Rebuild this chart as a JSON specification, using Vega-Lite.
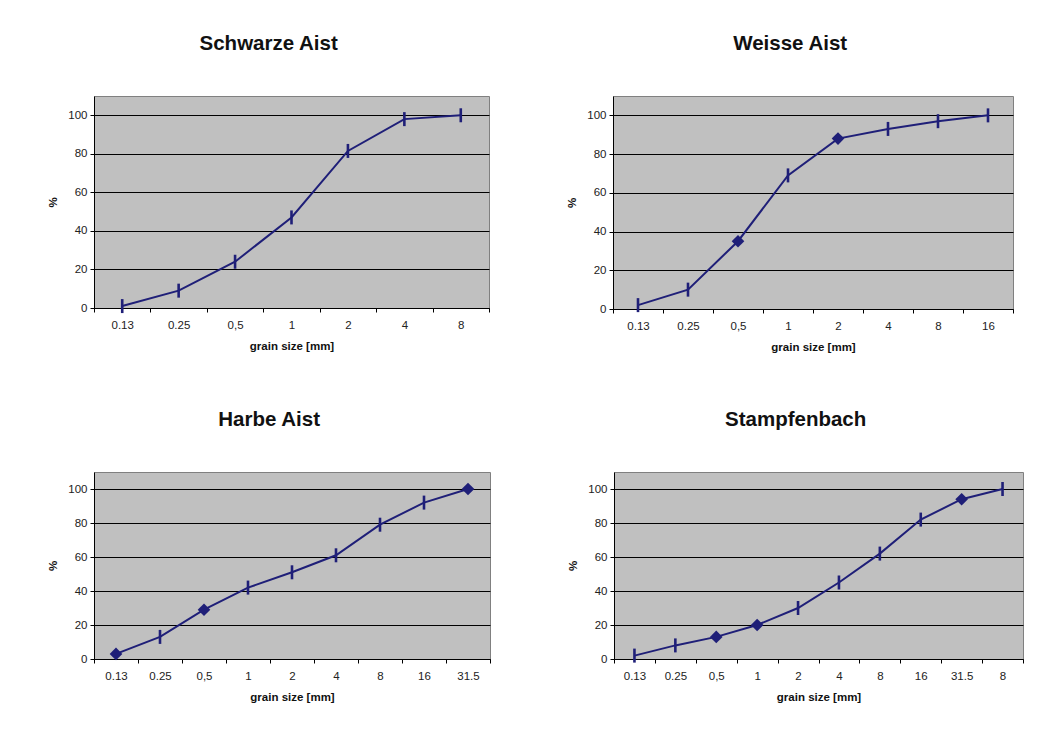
{
  "$schema": "https://vega.github.io/schema/vega-lite/v6.json",
  "padding": {"left": 47, "top": 33, "right": 5, "bottom": 5},
  "background": "white",
  "data": {"values": [
    {"panel": "Schwarze Aist", "size": "0.13", "ord": 1, "pct": 1, "marker": "tick"},
    {"panel": "Schwarze Aist", "size": "0.25", "ord": 2, "pct": 9, "marker": "tick"},
    {"panel": "Schwarze Aist", "size": "0,5", "ord": 3, "pct": 24, "marker": "tick"},
    {"panel": "Schwarze Aist", "size": "1", "ord": 4, "pct": 47, "marker": "tick"},
    {"panel": "Schwarze Aist", "size": "2", "ord": 5, "pct": 81.5, "marker": "tick"},
    {"panel": "Schwarze Aist", "size": "4", "ord": 6, "pct": 98, "marker": "tick"},
    {"panel": "Schwarze Aist", "size": "8", "ord": 7, "pct": 100, "marker": "tick"},
    {"panel": "Weisse Aist", "size": "0.13", "ord": 1, "pct": 2, "marker": "tick"},
    {"panel": "Weisse Aist", "size": "0.25", "ord": 2, "pct": 10, "marker": "tick"},
    {"panel": "Weisse Aist", "size": "0,5", "ord": 3, "pct": 35, "marker": "diamond"},
    {"panel": "Weisse Aist", "size": "1", "ord": 4, "pct": 69, "marker": "tick"},
    {"panel": "Weisse Aist", "size": "2", "ord": 5, "pct": 88, "marker": "diamond"},
    {"panel": "Weisse Aist", "size": "4", "ord": 6, "pct": 93, "marker": "tick"},
    {"panel": "Weisse Aist", "size": "8", "ord": 7, "pct": 97, "marker": "tick"},
    {"panel": "Weisse Aist", "size": "16", "ord": 8, "pct": 100, "marker": "tick"},
    {"panel": "Harbe Aist", "size": "0.13", "ord": 1, "pct": 3, "marker": "diamond"},
    {"panel": "Harbe Aist", "size": "0.25", "ord": 2, "pct": 13, "marker": "tick"},
    {"panel": "Harbe Aist", "size": "0,5", "ord": 3, "pct": 29, "marker": "diamond"},
    {"panel": "Harbe Aist", "size": "1", "ord": 4, "pct": 42, "marker": "tick"},
    {"panel": "Harbe Aist", "size": "2", "ord": 5, "pct": 51, "marker": "tick"},
    {"panel": "Harbe Aist", "size": "4", "ord": 6, "pct": 61, "marker": "tick"},
    {"panel": "Harbe Aist", "size": "8", "ord": 7, "pct": 79, "marker": "tick"},
    {"panel": "Harbe Aist", "size": "16", "ord": 8, "pct": 92, "marker": "tick"},
    {"panel": "Harbe Aist", "size": "31.5", "ord": 9, "pct": 100, "marker": "diamond"},
    {"panel": "Stampfenbach", "size": "0.13", "ord": 1, "pct": 2, "marker": "tick"},
    {"panel": "Stampfenbach", "size": "0.25", "ord": 2, "pct": 8, "marker": "tick"},
    {"panel": "Stampfenbach", "size": "0,5", "ord": 3, "pct": 13, "marker": "diamond"},
    {"panel": "Stampfenbach", "size": "1", "ord": 4, "pct": 20, "marker": "diamond"},
    {"panel": "Stampfenbach", "size": "2", "ord": 5, "pct": 30, "marker": "tick"},
    {"panel": "Stampfenbach", "size": "4", "ord": 6, "pct": 45, "marker": "tick"},
    {"panel": "Stampfenbach", "size": "8", "ord": 7, "pct": 62, "marker": "tick"},
    {"panel": "Stampfenbach", "size": "16", "ord": 8, "pct": 82, "marker": "tick"},
    {"panel": "Stampfenbach", "size": "31.5", "ord": 9, "pct": 94, "marker": "diamond"},
    {"panel": "Stampfenbach", "size": "8b", "ord": 10, "pct": 100, "marker": "tick"}
  ]},
  "config": {
    "font": "Liberation Sans",
    "view": {"fill": "#C0C0C0", "stroke": "#808080", "strokeWidth": 1},
    "title": {"fontSize": 20.5, "fontWeight": "bold", "color": "#111111", "anchor": "middle", "frame": "bounds", "offset": 42},
    "axis": {
      "labelFont": "Liberation Sans", "labelFontSize": 11.5, "labelColor": "#222222",
      "titleFont": "Liberation Sans", "titleFontSize": 11.5, "titleFontWeight": "bold", "titleColor": "#111111",
      "domainColor": "#000000", "tickColor": "#000000", "tickSize": 4, "gridColor": "#000000", "gridWidth": 1, "gridOpacity": 1
    },
    "axisX": {"labelPadding": 7, "titlePadding": 10, "grid": false, "labelAngle": 0, "tickBand": "extent"},
    "axisY": {"labelPadding": 3, "titlePadding": 9, "grid": true, "values": [0, 20, 40, 60, 80, 100]}
  },
  "spacing": 55,
  "vconcat": [
    {
      "spacing": 76,
      "hconcat": [
        {
          "title": "Schwarze Aist",
          "width": 395, "height": 212,
          "transform": [{"filter": "datum.panel == 'Schwarze Aist'"}],
          "encoding": {
            "x": {"field": "size", "type": "ordinal", "sort": {"field": "ord"}, "scale": {"type": "band", "paddingInner": 0, "paddingOuter": 0}, "title": "grain size [mm]"},
            "y": {"field": "pct", "type": "quantitative", "scale": {"domain": [0, 110], "nice": false}, "title": "%"}
          },
          "layer": [
            {"mark": {"type": "line", "color": "#1f1f78", "strokeWidth": 2}},
            {"transform": [{"filter": "datum.marker == 'tick'"}], "mark": {"type": "point", "shape": "M0,-1L0,1", "size": 196, "filled": false, "stroke": "#1f1f78", "strokeWidth": 2.6, "opacity": 1}},
            {"transform": [{"filter": "datum.marker == 'diamond'"}], "mark": {"type": "point", "shape": "diamond", "size": 160, "filled": true, "color": "#1f1f78", "opacity": 1}}
          ]
        },
        {
          "title": "Weisse Aist",
          "width": 400, "height": 213,
          "transform": [{"filter": "datum.panel == 'Weisse Aist'"}],
          "encoding": {
            "x": {"field": "size", "type": "ordinal", "sort": {"field": "ord"}, "scale": {"type": "band", "paddingInner": 0, "paddingOuter": 0}, "title": "grain size [mm]"},
            "y": {"field": "pct", "type": "quantitative", "scale": {"domain": [0, 110], "nice": false}, "title": "%"}
          },
          "layer": [
            {"mark": {"type": "line", "color": "#1f1f78", "strokeWidth": 2}},
            {"transform": [{"filter": "datum.marker == 'tick'"}], "mark": {"type": "point", "shape": "M0,-1L0,1", "size": 196, "filled": false, "stroke": "#1f1f78", "strokeWidth": 2.6, "opacity": 1}},
            {"transform": [{"filter": "datum.marker == 'diamond'"}], "mark": {"type": "point", "shape": "diamond", "size": 160, "filled": true, "color": "#1f1f78", "opacity": 1}}
          ]
        }
      ]
    },
    {
      "spacing": 76,
      "hconcat": [
        {
          "title": "Harbe Aist",
          "width": 396, "height": 187,
          "transform": [{"filter": "datum.panel == 'Harbe Aist'"}],
          "encoding": {
            "x": {"field": "size", "type": "ordinal", "sort": {"field": "ord"}, "scale": {"type": "band", "paddingInner": 0, "paddingOuter": 0}, "title": "grain size [mm]"},
            "y": {"field": "pct", "type": "quantitative", "scale": {"domain": [0, 110], "nice": false}, "title": "%"}
          },
          "layer": [
            {"mark": {"type": "line", "color": "#1f1f78", "strokeWidth": 2}},
            {"transform": [{"filter": "datum.marker == 'tick'"}], "mark": {"type": "point", "shape": "M0,-1L0,1", "size": 196, "filled": false, "stroke": "#1f1f78", "strokeWidth": 2.6, "opacity": 1}},
            {"transform": [{"filter": "datum.marker == 'diamond'"}], "mark": {"type": "point", "shape": "diamond", "size": 160, "filled": true, "color": "#1f1f78", "opacity": 1}}
          ]
        },
        {
          "title": "Stampfenbach",
          "width": 409, "height": 187,
          "transform": [{"filter": "datum.panel == 'Stampfenbach'"}],
          "encoding": {
            "x": {"field": "size", "type": "ordinal", "sort": {"field": "ord"}, "scale": {"type": "band", "paddingInner": 0, "paddingOuter": 0}, "title": "grain size [mm]", "axis": {"labelExpr": "datum.label == '8b' ? '8' : datum.label"}},
            "y": {"field": "pct", "type": "quantitative", "scale": {"domain": [0, 110], "nice": false}, "title": "%"}
          },
          "layer": [
            {"mark": {"type": "line", "color": "#1f1f78", "strokeWidth": 2}},
            {"transform": [{"filter": "datum.marker == 'tick'"}], "mark": {"type": "point", "shape": "M0,-1L0,1", "size": 196, "filled": false, "stroke": "#1f1f78", "strokeWidth": 2.6, "opacity": 1}},
            {"transform": [{"filter": "datum.marker == 'diamond'"}], "mark": {"type": "point", "shape": "diamond", "size": 160, "filled": true, "color": "#1f1f78", "opacity": 1}}
          ]
        }
      ]
    }
  ]
}
